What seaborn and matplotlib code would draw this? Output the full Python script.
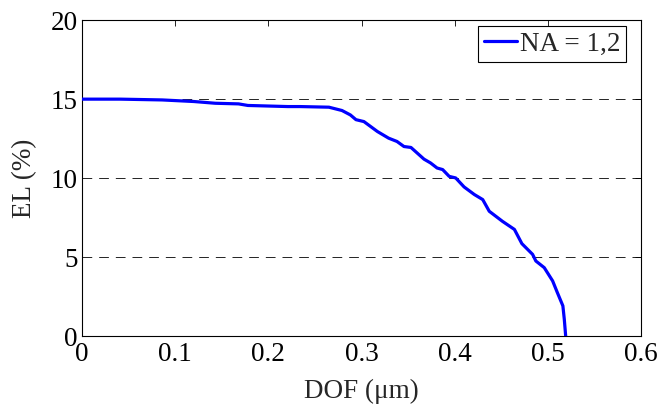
import matplotlib
matplotlib.use("Agg")
import matplotlib.pyplot as plt
import seaborn as sns
import pandas as pd

# values
dof = [0, 0.041, 0.086, 0.12, 0.143, 0.168, 0.178, 0.221, 0.234, 0.265, 0.279,
       0.288, 0.294, 0.3025, 0.317, 0.329, 0.338, 0.3455, 0.353, 0.367, 0.374,
       0.381, 0.387, 0.394, 0.401, 0.410, 0.421, 0.430, 0.437, 0.451, 0.464,
       0.472, 0.4835, 0.487, 0.496, 0.505, 0.510, 0.516, 0.5175, 0.519]
el = [15.0, 15.0, 14.95, 14.85, 14.74, 14.7, 14.6, 14.53, 14.53, 14.49, 14.28,
      14.0, 13.7, 13.58, 12.95, 12.53, 12.32, 12.0, 11.94, 11.2, 10.96,
      10.64, 10.54, 10.11, 10.01, 9.44, 8.96, 8.64, 7.9, 7.27, 6.75,
      5.85, 5.17, 4.75, 4.33, 3.49, 2.76, 1.91, 1.07, 0.0]
series_name = "NA = 1,2"
x_ticks = [0, 0.1, 0.2, 0.3, 0.4, 0.5, 0.6]
x_tick_labels = ["0", "0.1", "0.2", "0.3", "0.4", "0.5", "0.6"]
y_ticks = [0, 5, 10, 15, 20]

sns.set_style("white")
plt.rcParams["font.family"] = ["Liberation Serif", "DejaVu Serif"]
plt.rcParams["lines.scale_dashes"] = False

df = pd.DataFrame({"DOF": dof, "EL": el, "serie": series_name})

fig = plt.figure(figsize=(6.61, 4.07), dpi=100)
ax = fig.add_axes([0.124, 0.1744, 0.846, 0.776])

for yv in y_ticks[1:]:
    ax.axhline(yv, color="black", lw=0.6, linestyle=(0, (7, 5)), zorder=1)

sns.lineplot(data=df, x="DOF", y="EL", hue="serie", palette=["#0000ff"],
             sort=False, estimator=None, lw=2.3, ax=ax, zorder=3)

ax.set_xlim(0, 0.6)
ax.set_ylim(0, 20)
ax.set_xticks(x_ticks)
ax.set_xticklabels(x_tick_labels)
ax.set_yticks(y_ticks)
ax.tick_params(direction="in", top=True, right=True, length=4, width=0.6,
               labelsize=19.5, colors="black")
ax.tick_params(axis="x", pad=4)
ax.tick_params(axis="y", pad=3)
for s in ax.spines.values():
    s.set_color("black")
    s.set_linewidth(0.8)

ax.set_xlabel("DOF (\u03bcm)", fontsize=19.5, labelpad=9)
ax.set_ylabel("EL (%)", fontsize=19.5, labelpad=10)

leg = ax.legend(loc="upper right", bbox_to_anchor=(0.973, 0.981),
                fontsize=19.5, frameon=True, fancybox=False,
                edgecolor="black", handlelength=1.25, handletextpad=0.1,
                borderpad=0.2, borderaxespad=0, framealpha=1)
leg.get_frame().set_linewidth(0.8)

fig.savefig("out.png", dpi=100)
